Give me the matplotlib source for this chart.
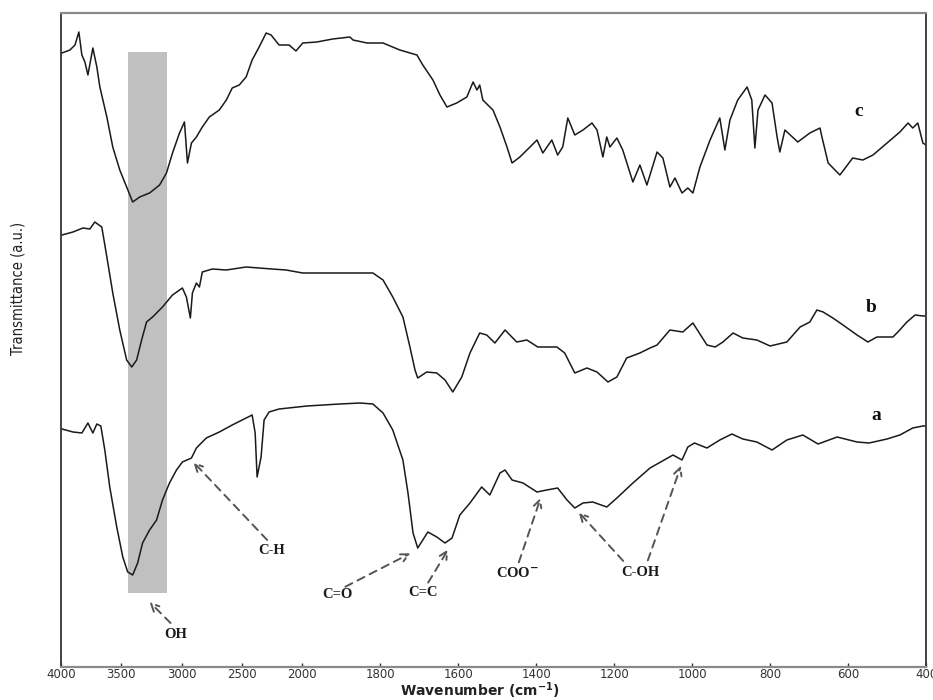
import numpy as np
import matplotlib
matplotlib.use("Agg")
import matplotlib.pyplot as plt

# FTIR spectra, transmittance in arbitrary units (stacked a / b / c)
wn_a = [3992, 3901, 3827, 3777, 3736, 3703, 3670, 3637, 3596, 3538, 3488, 3447, 3406,
        3365, 3324, 3266, 3208, 3159, 3101, 3043, 2994, 2919, 2878, 2796, 2688, 2581,
        2466, 2416, 2391, 2375, 2342, 2317, 2276, 2193, 1988, 1904, 1852, 1819, 1793,
        1768, 1742, 1729, 1716, 1704, 1691, 1678, 1655, 1634, 1616, 1596, 1570, 1540,
        1519, 1493, 1480, 1462, 1434, 1398, 1373, 1345, 1321, 1301, 1280, 1255, 1219,
        1193, 1152, 1108, 1049, 1026, 1011, 994, 962, 929, 898, 870, 834, 795, 757,
        716, 677, 628, 577, 546, 500, 467, 434, 408, 400]
t_a = [271, 268, 267, 277, 267, 276, 274, 250, 213, 173, 143, 128, 125,
       137, 157, 170, 180, 200, 217, 230, 238, 242, 252, 262, 268, 275,
       282, 285, 267, 223, 243, 280, 288, 291, 294, 296, 297, 296, 287,
       270, 240, 207, 167, 152, 160, 168, 163, 157, 162, 185, 197, 213,
       205, 227, 230, 220, 217, 208, 210, 212, 200, 192, 197, 198, 193,
       202, 217, 232, 245, 240, 253, 257, 252, 260, 266, 261, 258, 250, 260,
       265, 256, 263, 258, 257, 261, 265, 272, 274, 274]

wn_b = [3992, 3901, 3818, 3761, 3720, 3662, 3620, 3571, 3513, 3456, 3414, 3373, 3332,
        3291, 3241, 3159, 3076, 2994, 2961, 2928, 2911, 2878, 2853, 2829, 2746, 2630,
        2466, 2251, 2135, 1999, 1947, 1860, 1819, 1793, 1768, 1742, 1724, 1711, 1704,
        1681, 1655, 1634, 1614, 1591, 1570, 1545, 1527, 1506, 1480, 1450, 1424, 1396,
        1347, 1327, 1301, 1270, 1244, 1216, 1193, 1168, 1134, 1108, 1090, 1057, 1024,
        998, 962, 941, 921, 895, 870, 834, 800, 757, 723, 698, 680, 664, 639, 613,
        577, 549, 526, 485, 472, 449, 428, 408, 400]
t_b = [465, 468, 472, 471, 478, 473, 443, 407, 370, 340, 333, 340, 360,
       378, 383, 393, 405, 412, 403, 382, 407, 417, 413, 428, 431, 430,
       433, 431, 430, 427, 427, 427, 427, 420, 403, 383, 353, 330, 322,
       328, 327, 320, 308, 323, 347, 367, 365, 357, 370, 358, 360, 353,
       353, 347, 327, 332, 328, 318, 323, 342, 347, 352, 355, 370, 368,
       377, 355, 353, 358, 367, 362, 360, 354, 358, 373, 378, 390, 388, 382, 375,
       365, 358, 363, 363, 368, 378, 385, 384, 384]

wn_c = [3992, 3926, 3884, 3852, 3827, 3802, 3777, 3736, 3703, 3678, 3620, 3571, 3513,
        3456, 3406, 3348, 3266, 3183, 3126, 3076, 3018, 2977, 2952, 2919, 2878, 2829,
        2771, 2688, 2630, 2581, 2523, 2466, 2416, 2358, 2300, 2259, 2193, 2110, 2053,
        1999, 1963, 1922, 1878, 1870, 1834, 1793, 1750, 1706, 1691, 1665, 1647, 1629,
        1604, 1578, 1562, 1552, 1545, 1537, 1511, 1493, 1475, 1462, 1442, 1416, 1398,
        1383, 1360, 1345, 1332, 1319, 1301, 1280, 1257, 1244, 1229, 1219, 1211, 1193,
        1178, 1152, 1134, 1116, 1090, 1075, 1057, 1044, 1026, 1011, 998, 980, 954,
        929, 916, 903, 883, 859, 847, 839, 831, 813, 795, 782, 775, 762, 729, 698,
        672, 667, 651, 621, 588, 562, 536, 500, 467, 446, 434, 421, 408, 400]
t_c = [647, 650, 655, 668, 645, 638, 625, 652, 633, 613, 583, 553, 530,
       513, 498, 503, 507, 515, 527, 547, 567, 578, 537, 557, 563, 573,
       583, 590, 600, 612, 615, 623, 640, 653, 667, 665, 655, 655, 649,
       657, 658, 661, 663, 660, 657, 657, 650, 645, 635, 620, 605, 593,
       597, 603, 618, 610, 615, 600, 590, 573, 553, 537, 543, 553, 560,
       547, 560, 545, 553, 582, 565, 570, 577, 570, 543, 563, 553, 562,
       550, 518, 535, 515, 548, 542, 513, 522, 507, 512, 507, 533, 560,
       582, 550, 580, 600, 613, 600, 552, 590, 605, 597, 563, 548, 570, 558, 567,
       572, 563, 537, 525, 542, 540, 545, 557, 568, 577, 572, 577, 557, 555]

band = (3445, 3120)
band_t = (107, 648)
xticks = [4000, 3500, 3000, 2500, 2000, 1800, 1600, 1400, 1200, 1000, 800, 600, 400]

# (label, text position, [(arrow tail, arrow head), ...])
marks = [
    ("OH", (3051, 65), [((3076, 75), (3282, 100))]),
    ("C-H", (2251, 149), [((2276, 158), (2919, 240))]),
    ("C=O", (1909, 106), [((1896, 112), (1716, 148))]),
    ("C=C", (1691, 107), [((1681, 115), (1622, 153))]),
    ("COO$^{\\mathbf{-}}$", (1447, 126), [((1447, 135), (1386, 205))]),
    ("C-OH", (1134, 127), [((1172, 137), (1296, 190)), ((1116, 137), (1026, 237))]),
]
curve_labels = [("a", 527, 285), ("b", 541, 392), ("c", 572, 588)]


# region above 2000 cm-1 is compressed relative to the fingerprint region
def fwd(w):
    w = np.asarray(w, dtype=float)
    return np.where(w >= 2000, w - 2000, (w - 2000) * 3.23)


def inv(u):
    u = np.asarray(u, dtype=float)
    return np.where(u >= 0, u + 2000, u / 3.23 + 2000)


fig = plt.figure(figsize=(9.33, 7.0), dpi=100)
ax = fig.add_axes([61 / 933, 1 - 667 / 700, 865 / 933, 654 / 700])
ax.set_xscale("function", functions=(fwd, inv))

ax.fill_between(band, band_t[0], band_t[1], color="#c0c0c0", lw=0, zorder=0)
for w, t in [(wn_a, t_a), (wn_b, t_b), (wn_c, t_c)]:
    ax.plot(w, t, color="#1a1a1a", lw=1.1, zorder=2)

serif = ["Liberation Serif", "DejaVu Serif"]
for lab, (tx, ty), arrows in marks:
    ax.text(tx, ty, lab, ha="center", va="center", fontsize=10.5,
            fontweight="bold", family=serif, color="#1a1a1a")
    for tail, head in arrows:
        ax.annotate("", xy=head, xytext=tail,
                    arrowprops=dict(arrowstyle="->", linestyle=(0, (4, 3)),
                                    color="#555555", lw=1.4, mutation_scale=14))

for lab, w, t in curve_labels:
    ax.text(w, t, lab, ha="center", va="center", fontsize=14,
            fontweight="bold", family=serif, color="#111111")

ax.set_xlim(4000, 400)
ax.set_ylim(33, 687)
ax.set_xticks(xticks)
ax.set_xticklabels([str(v) for v in xticks])
ax.set_yticks([])
ax.tick_params(axis="x", direction="in", length=3, width=1, pad=1,
               labelsize=8.5, labelcolor="#333333", color="#333333")
for side in ["left", "right"]:
    ax.spines[side].set_color("#333333")
    ax.spines[side].set_linewidth(1.3)
for side in ["top", "bottom"]:
    ax.spines[side].set_color("#8a8a8a")
    ax.spines[side].set_linewidth(1.6)

fig.text(480 / 933, 1 - 691 / 700, "Wavenumber (cm$^{\\mathbf{-1}}$)", ha="center",
         va="center", fontsize=10, fontweight="bold", color="#222222")
fig.text(18 / 933, 1 - 288 / 700, "Transmittance (a.u.)", rotation=90,
         ha="center", va="center", fontsize=10.5, color="#222222",
         fontstretch="condensed",
         family=["Liberation Sans Narrow", "DejaVu Sans"])

fig.savefig("out.png", dpi=100)
